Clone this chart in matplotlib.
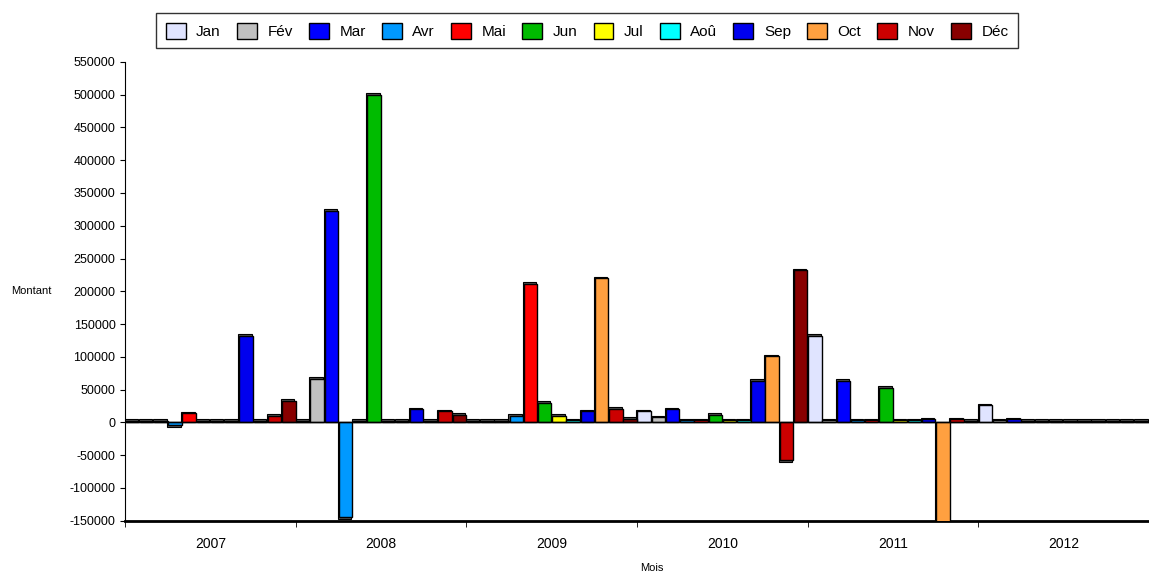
import numpy as np
import matplotlib.pyplot as plt

years = ["2007", "2008", "2009", "2010", "2011", "2012"]
months = ["Jan", "Fév", "Mar", "Avr", "Mai", "Jun", "Jul", "Aoû", "Sep", "Oct", "Nov", "Déc"]
colors = ["#E0E4FF", "#C0C0C0", "#0000FF", "#0099FF", "#FF0000", "#00BB00",
          "#FFFF00", "#00FFFF", "#0000EE", "#FFA040", "#CC0000", "#880000"]

# montants par mois (lignes) et par année (colonnes)
v2007 = [2000, 2000, 2000, -4000, 14000, 2000, 2000, 2000, 132000, 2000, 10000, 33000]
v2008 = [2000, 67000, 323000, -145000, 2000, 500000, 2000, 2000, 20000, 2000, 17000, 12000]
v2009 = [2000, 2000, 2000, 10000, 211000, 30000, 10000, 3000, 17000, 220000, 21000, 6000]
v2010 = [17000, 8000, 20000, 3000, 3000, 12000, 3000, 3000, 63000, 101000, -58000, 232000]
v2011 = [132000, 3000, 63000, 3000, 3000, 53000, 3000, 3000, 5000, -160000, 5000, 2000]
v2012 = [26000, 3000, 5000, 2000, 2000, 2000, 2000, 2000, 2000, 2000, 2000, 2000]
data = np.array([v2007, v2008, v2009, v2010, v2011, v2012])

fig = plt.figure(figsize=(11.49, 5.78), dpi=100)
ax = fig.add_axes([0.109, 0.099, 0.891, 0.794])

w = 1.0 / 12
x0 = np.arange(len(years)) - 0.5 + w / 2
for m in range(12):
    x = x0 + m * w
    vals = data[:, m]
    # petit effet 3D : ombre décalée
    ax.bar(x - 0.006, vals + np.sign(vals) * 2500, width=w * 0.95, color="#555555",
           edgecolor="black", linewidth=0.8, zorder=2)
    ax.bar(x, vals, width=w * 0.95, color=colors[m], edgecolor="black",
           linewidth=1, label=months[m], zorder=3)

ax.set_xlim(-0.5, 5.5)
ax.set_ylim(-150000, 550000)
ax.set_yticks(np.arange(-150000, 550001, 50000))
ax.set_yticklabels([str(v) for v in range(-150000, 550001, 50000)], fontsize=9,
                   family="Liberation Sans")
ax.set_xticks(np.arange(len(years)))
ax.set_xticklabels(years, fontsize=10, family="Liberation Sans")
ax.set_xticks(np.arange(-0.5, 5.6, 1), minor=True)
ax.tick_params(axis="x", which="major", length=0, pad=12)
ax.tick_params(axis="x", which="minor", length=4)
ax.axhline(0, color="black", linewidth=1, zorder=4)
for s in ["top", "right"]:
    ax.spines[s].set_visible(False)
ax.spines["bottom"].set_linewidth(2)

fig.text(0.01, 0.497, "Montant", fontsize=8, family="Liberation Sans", va="center")
fig.text(0.567, 0.012, "Mois", fontsize=8, family="Liberation Sans", ha="center")

fig.legend(loc="upper center", bbox_to_anchor=(0.511, 0.99), ncol=12, fancybox=False,
           edgecolor="black", prop={"family": "Liberation Sans", "size": 11},
           handlelength=1.3, handleheight=1.3, columnspacing=1.05, handletextpad=0.7,
           borderpad=0.6)

plt.savefig("out.png", dpi=100)
